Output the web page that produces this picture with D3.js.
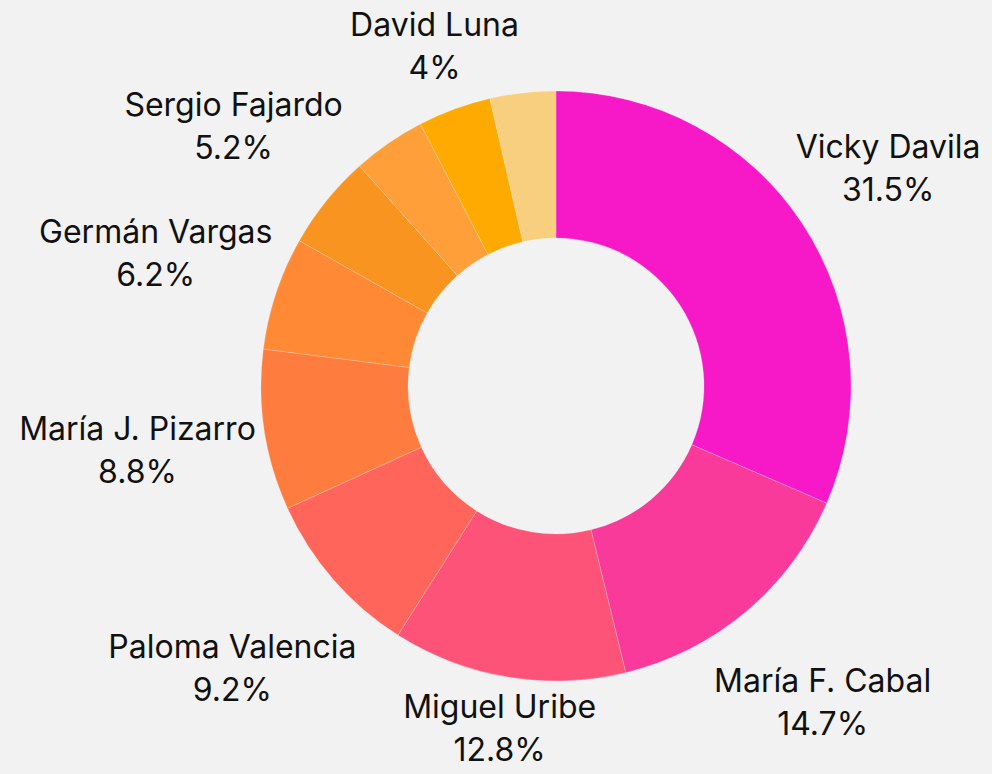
<!DOCTYPE html>
<html>
<head>
<meta charset="utf-8">
<script src="https://cdn.jsdelivr.net/npm/d3@7"></script>
<style>
  html, body { margin: 0; padding: 0; background: #f2f2f2; }
  svg { display: block; }
  .lbl { font-family: Inter, "Noto Sans", sans-serif; font-size: 32px; fill: #111; }
</style>
</head>
<body>
<script>
// candidates, share of vote (%), slice colours
const names = ["Vicky Davila", "María F. Cabal", "Miguel Uribe", "Paloma Valencia", "María J. Pizarro",
               "Germán Vargas", "Sergio Fajardo", "David Luna", "Otros", "Otros 2"];
const values = [31.5, 14.7, 12.8, 9.2, 8.8, 6.2, 5.2, 4.0, 4.0, 3.6];
const showLabel = [true, true, true, true, true, true, true, true, false, false];
const colors = ["#f719c8", "#f93a9b", "#fd5379", "#ff655a", "#ff7c3f",
                "#ff8935", "#fa9420", "#ff9f3a", "#ffaa00", "#f8cf7e"];

const width = 992, height = 774;
const cx = 556, cy = 386, outerR = 295, innerR = 148;

const svg = d3.select("body").append("svg")
  .attr("width", width)
  .attr("height", height);

const data = names.map((n, i) => ({ name: n, value: values[i], color: colors[i], show: showLabel[i] }));

const pie = d3.pie().sort(null).value(d => d.value);
const arc = d3.arc().innerRadius(innerR).outerRadius(outerR);
const arcs = pie(data);

const g = svg.append("g").attr("transform", `translate(${cx},${cy})`);

g.selectAll("path")
  .data(arcs)
  .join("path")
  .attr("d", arc)
  .attr("fill", d => d.data.color)
  .attr("stroke", "#ffffff")
  .attr("stroke-opacity", 0.35)
  .attr("stroke-width", 0.6);

// labels sit on a radius that grows with the label width; nudge along the ring if they collide
const r0 = 305, lineGap = 43, boxH = 76, pad = 8;
const placed = [];

function overlaps(a, b) {
  return a.x0 < b.x1 && a.x1 > b.x0 && a.y0 < b.y1 && a.y1 > b.y0;
}

const labels = g.append("g");
arcs.filter(d => d.data.show).forEach(d => {
  const t = labels.append("text").attr("class", "lbl").attr("text-anchor", "middle");
  const l1 = t.append("tspan").text(d.data.name);
  const l2 = t.append("tspan").text(d3.format(".2~f")(d.data.value) + "%");
  const w = Math.max(l1.node().getComputedTextLength(), l2.node().getComputedTextLength());

  let a = (d.startAngle + d.endAngle) / 2;
  let box, x, y;
  for (let k = 0; k < 150; k++) {
    let R = r0 + w / 2;
    y = -R * Math.cos(a);
    const yMax = height - cy - boxH / 2 - pad, yMin = -cy + boxH / 2 + pad;
    if (y > yMax) R = yMax / -Math.cos(a);
    if (y < yMin) R = yMin / -Math.cos(a);
    x = R * Math.sin(a);
    y = -R * Math.cos(a);
    box = { x0: x - w / 2 - 3, x1: x + w / 2 + 3, y0: y - boxH / 2 - 6, y1: y + boxH / 2 + 6 };
    if (!placed.some(p => overlaps(p, box))) break;
    a += 0.005;
  }
  placed.push(box);

  l1.attr("x", x).attr("y", y - lineGap / 2).attr("dominant-baseline", "central");
  l2.attr("x", x).attr("y", y + lineGap / 2).attr("dominant-baseline", "central");
});
</script>
</body>
</html>
